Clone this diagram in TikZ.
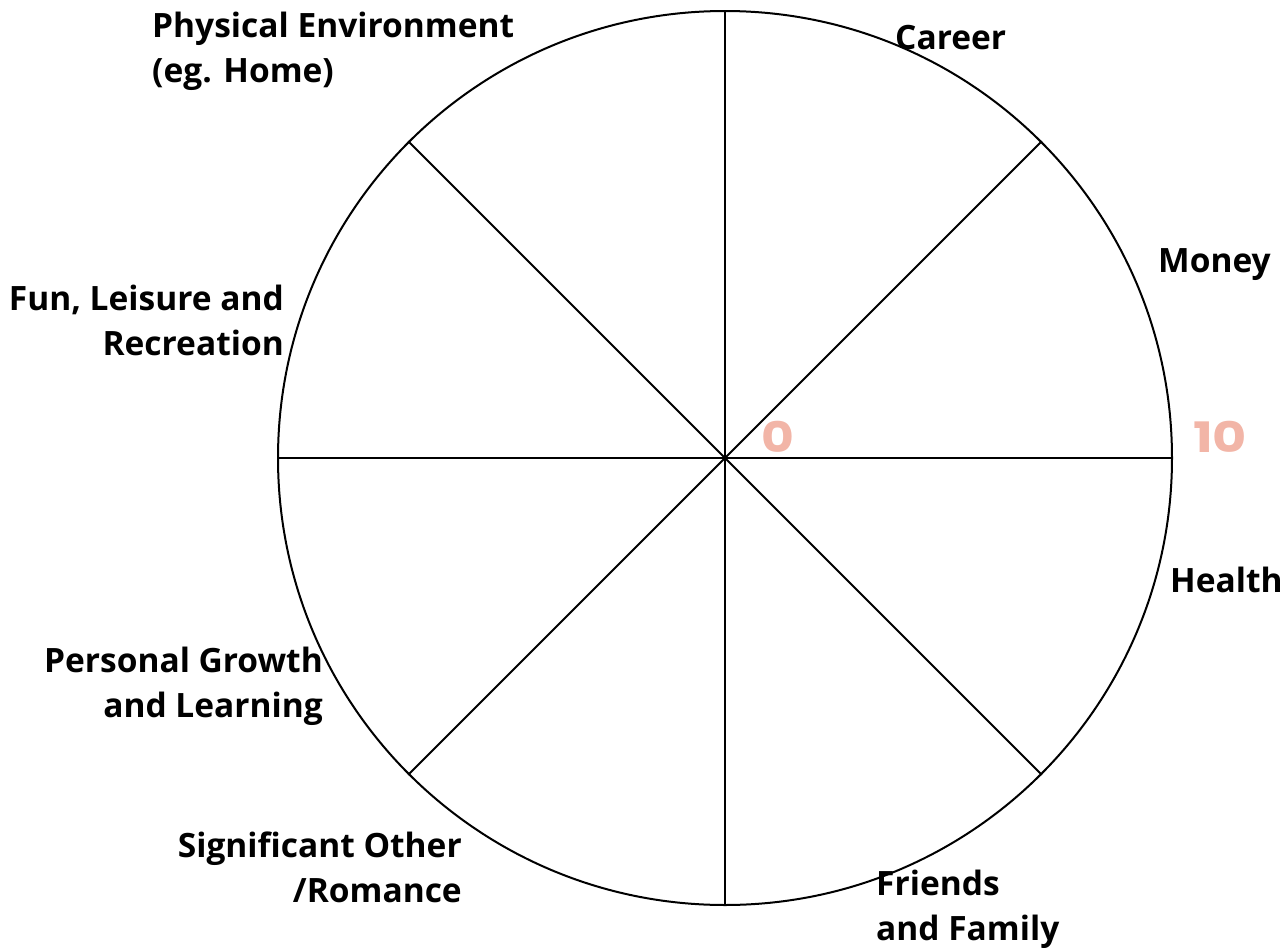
\documentclass[tikz,border=0pt]{standalone}
\usepackage{fontspec}
\setmainfont{Open Sans}[BoldFont={Open Sans Bold}]
\newfontfamily\numfont{Poppins}[BoldFont={Poppins Bold}]
\definecolor{salmon}{HTML}{F2B5A7}
\begin{document}
\begin{tikzpicture}[x=1pt,y=-1pt,
  lab/.style={font=\bfseries\fontsize{33.5}{45}\selectfont, inner sep=0pt},
  num/.style={font=\numfont\bfseries\fontsize{42}{42}\selectfont, text=salmon, inner sep=0pt},
  spoke/.style={line width=2pt}]
\useasboundingbox (0,0) rectangle (1286,948);
\coordinate (c) at (725,458);
\node[circle, draw, line width=2pt, minimum size=894pt, inner sep=0pt] (wheel) at (c) {};
\foreach \a in {0,45,...,315} \draw[spoke] (wheel.center) -- (wheel.\a);
\node[lab, anchor=base west, align=left] (phys) at (152,82) {Physical Environment\\(eg. Home)};
\node[lab, anchor=base west] (career) at (895,49) {Career};
\node[lab, anchor=base west] (money) at (1158,272) {Money};
\node[lab, anchor=base east, align=right] (fun) at (284,355) {Fun, Leisure and\\Recreation};
\node[lab, anchor=base west] (health) at (1170,592) {Health};
\node[lab, anchor=base east, align=right] (growth) at (323,717) {Personal Growth\\and Learning};
\node[lab, anchor=base east, align=right] (sig) at (462,902) {Significant Other\\/Romance};
\node[lab, anchor=base west, align=left] (friends) at (876,940) {Friends\\and Family};
\node[num, anchor=base west] (zero) at (761,452) {\scalebox{1.2}[1]{0}};
\node[num, anchor=base west] (ten) at (1193,452) {\scalebox{1.25}[1]{10}};
\end{tikzpicture}
\end{document}
